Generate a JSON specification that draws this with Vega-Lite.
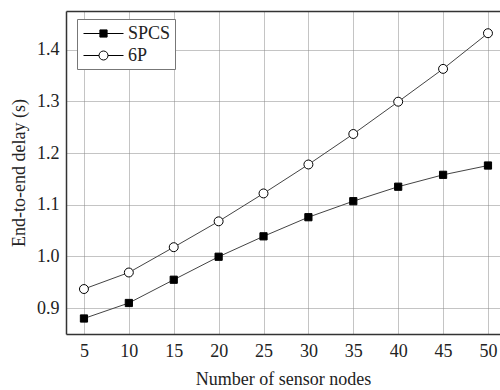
{
  "$schema": "https://vega.github.io/schema/vega-lite/v6.json",
  "autosize": {"type": "none"},
  "padding": {"left": 66, "top": 11, "right": 0, "bottom": 56},
  "width": 434,
  "height": 323,
  "background": "white",
  "config": {
    "view": {"stroke": null},
    "font": "Liberation Serif",
    "axis": {"labelFont": "Liberation Serif", "titleFont": "Liberation Serif", "labelFontSize": 18, "titleFontSize": 18, "titleFontWeight": "normal", "labelColor": "#222", "titleColor": "#222", "grid": true, "gridDash": [1, 1], "gridColor": "#888", "gridWidth": 1}
  },
  "data": {
    "values": [
      {"nodes": 5, "series": "SPCS", "delay": 0.880},
      {"nodes": 10, "series": "SPCS", "delay": 0.910},
      {"nodes": 15, "series": "SPCS", "delay": 0.955},
      {"nodes": 20, "series": "SPCS", "delay": 0.9995},
      {"nodes": 25, "series": "SPCS", "delay": 1.039},
      {"nodes": 30, "series": "SPCS", "delay": 1.076},
      {"nodes": 35, "series": "SPCS", "delay": 1.107},
      {"nodes": 40, "series": "SPCS", "delay": 1.135},
      {"nodes": 45, "series": "SPCS", "delay": 1.158},
      {"nodes": 50, "series": "SPCS", "delay": 1.176},
      {"nodes": 5, "series": "6P", "delay": 0.937},
      {"nodes": 10, "series": "6P", "delay": 0.969},
      {"nodes": 15, "series": "6P", "delay": 1.018},
      {"nodes": 20, "series": "6P", "delay": 1.068},
      {"nodes": 25, "series": "6P", "delay": 1.122},
      {"nodes": 30, "series": "6P", "delay": 1.178},
      {"nodes": 35, "series": "6P", "delay": 1.237},
      {"nodes": 40, "series": "6P", "delay": 1.2995},
      {"nodes": 45, "series": "6P", "delay": 1.363},
      {"nodes": 50, "series": "6P", "delay": 1.432}
    ]
  },
  "layer": [
    {
      "mark": {"type": "line", "color": "#444", "strokeWidth": 1},
      "encoding": {
        "x": {"field": "nodes", "type": "quantitative",
          "scale": {"domain": [3, 51.34], "nice": false, "zero": false},
          "axis": {"values": [5, 10, 15, 20, 25, 30, 35, 40, 45, 50], "title": "Number of sensor nodes", "labelFont": "Liberation Serif", "titleFont": "Liberation Serif", "grid": true, "ticks": false, "domainColor": "#333", "domainWidth": 1.5, "labelPadding": 8, "titlePadding": 10, "labelFlush": false}},
        "y": {"field": "delay", "type": "quantitative",
          "scale": {"domain": [0.85, 1.475], "nice": false, "zero": false},
          "axis": {"values": [0.9, 1.0, 1.1, 1.2, 1.3, 1.4], "format": ".1f", "title": "End-to-end delay (s)", "labelFont": "Liberation Serif", "titleFont": "Liberation Serif", "grid": true, "ticks": false, "domainColor": "#333", "domainWidth": 1.5, "labelPadding": 7, "titlePadding": 8, "labelFlush": false}},
        "detail": {"field": "series"}
      }
    },
    {
      "mark": {"type": "point", "filled": false, "stroke": "black", "strokeWidth": 1, "opacity": 1},
      "encoding": {
        "x": {"field": "nodes", "type": "quantitative", "axis": null},
        "y": {"field": "delay", "type": "quantitative"},
        "shape": {"field": "series", "type": "nominal", "scale": {"domain": ["SPCS", "6P"], "range": ["square", "circle"]}, "legend": null},
        "fill": {"field": "series", "type": "nominal", "scale": {"domain": ["SPCS", "6P"], "range": ["black", "white"]}, "legend": null},
        "size": {"field": "series", "type": "nominal", "scale": {"domain": ["SPCS", "6P"], "range": [52, 80]}, "legend": null}
      }
    },
    {
      "mark": {"type": "point", "filled": false, "stroke": "black", "strokeWidth": 1, "opacity": 0},
      "encoding": {
        "x": {"field": "nodes", "type": "quantitative",
          "axis": {"orient": "top", "labels": false, "ticks": false, "grid": false, "title": null, "domainColor": "#333", "domainWidth": 1.5}},
        "shape": {"field": "series", "type": "nominal",
          "scale": {"domain": ["SPCS", "6P"], "range": [
            "M-2,0H-0.36M0.36,0H2M-0.36,-0.36H0.36V0.36H-0.36Z",
            "M-2,0H-0.45M0.45,0H2M0.45,0A0.45,0.45 0 1,1 -0.45,0A0.45,0.45 0 1,1 0.45,0Z"
          ]},
          "legend": {"title": null, "orient": "none", "legendX": 11, "legendY": 8, "symbolOpacity": 1, "symbolSize": 400, "symbolOffset": 12, "symbolStrokeColor": "black", "symbolStrokeWidth": 1, "labelFont": "Liberation Serif", "labelFontSize": 18, "labelColor": "#222", "labelOffset": 14, "padding": 4, "rowPadding": 2, "strokeColor": "#777", "fillColor": "white", "cornerRadius": 0,
            "encode": {"symbols": {"update": {"stroke": {"value": "black"}, "strokeWidth": {"value": 1}, "opacity": {"value": 1}}}}}},
        "fill": {"field": "series", "type": "nominal",
          "scale": {"domain": ["SPCS", "6P"], "range": ["black", "white"]},
          "legend": {"title": null, "orient": "none", "legendX": 11, "legendY": 8, "symbolOpacity": 1, "symbolSize": 400, "symbolOffset": 12, "symbolStrokeColor": "black", "symbolStrokeWidth": 1, "labelFont": "Liberation Serif", "labelFontSize": 18, "labelColor": "#222", "labelOffset": 14, "padding": 4, "rowPadding": 2, "strokeColor": "#777", "fillColor": "white", "cornerRadius": 0,
            "encode": {"symbols": {"update": {"stroke": {"value": "black"}, "strokeWidth": {"value": 1}, "opacity": {"value": 1}}}}}}
      }
    }
  ],
  "resolve": {"scale": {"shape": "independent", "fill": "independent", "size": "independent"}, "axis": {"x": "independent"}}
}
